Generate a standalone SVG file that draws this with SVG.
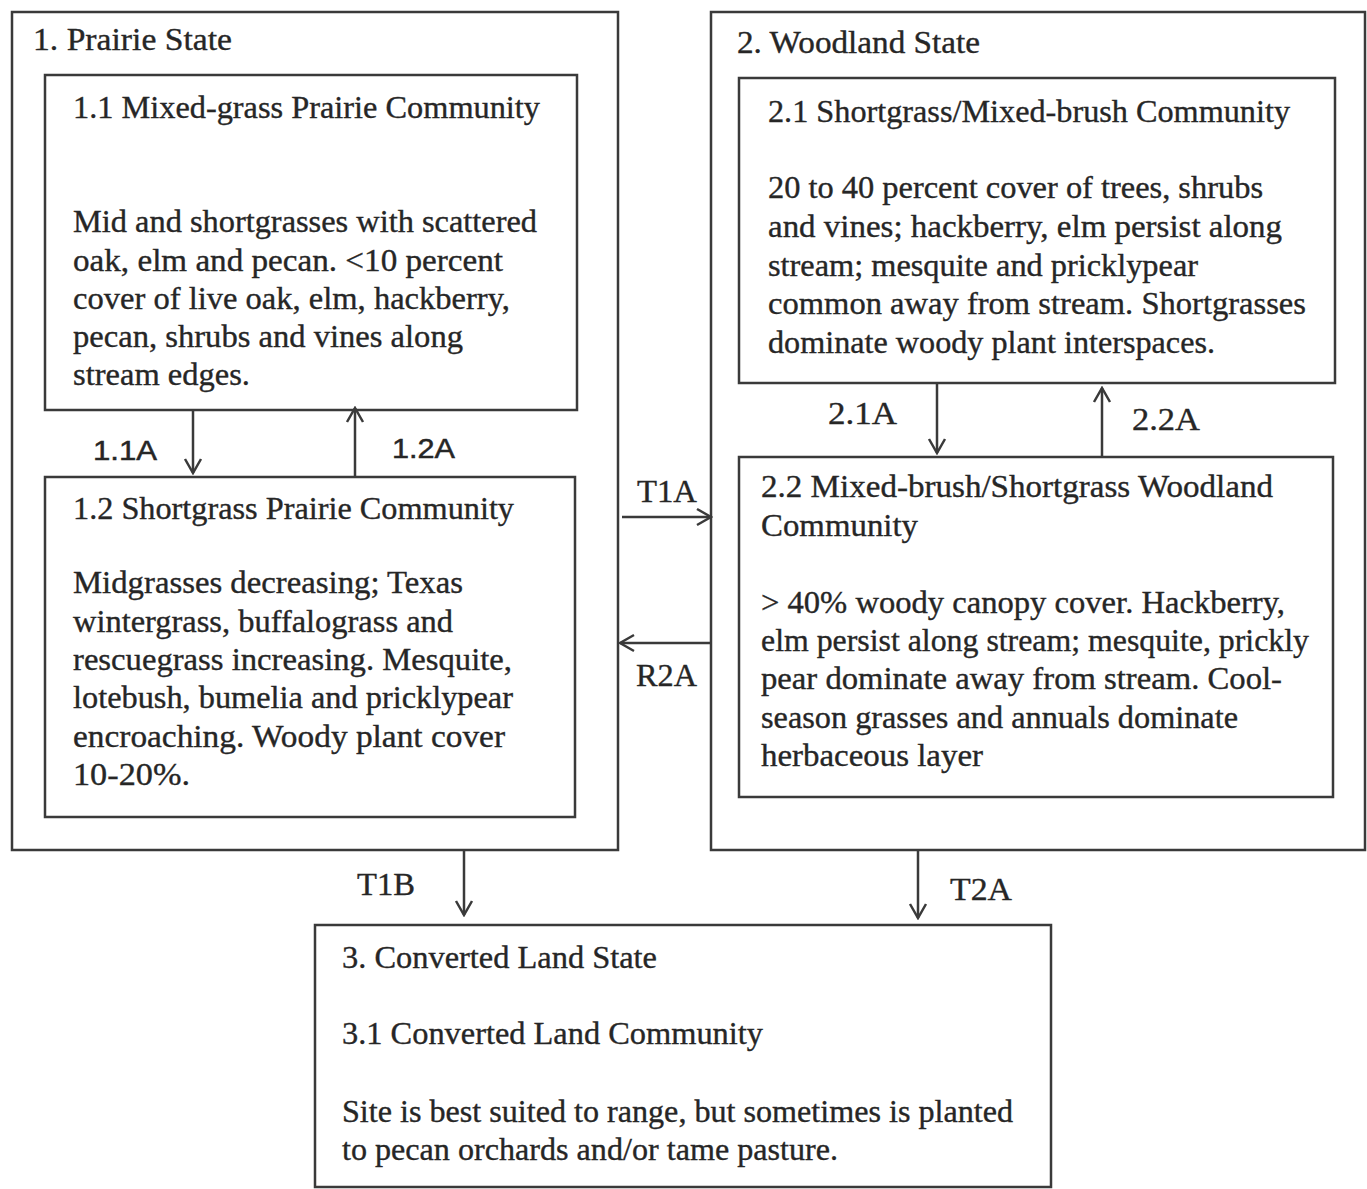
<svg xmlns="http://www.w3.org/2000/svg" width="1367" height="1189" viewBox="0 0 1367 1189" xml:space="preserve">
<style>
.box{fill:#fff;stroke:#3a3a3a;stroke-width:2.5}
.t{font-family:"Liberation Serif","Times New Roman",serif;font-size:31px;fill:#262626;stroke:#262626;stroke-width:0.35}
.s{font-family:"Liberation Sans",Arial,sans-serif;font-size:28px;fill:#262626;stroke:#262626;stroke-width:0.5}
.c{fill:none;stroke:#3a3a3a;stroke-width:2.5}
</style>
<defs>
<marker id="ah" viewBox="0 0 20 20" refX="18" refY="10" markerWidth="20" markerHeight="20" markerUnits="userSpaceOnUse" orient="auto">
<polyline points="4,2 18,10 4,18" fill="none" stroke="#3a3a3a" stroke-width="2.5"/>
</marker>
</defs>
<rect width="1367" height="1189" fill="#fff"/>
<g id="state1">
<rect class="box" x="12" y="12" width="606" height="838"/>
<text class="t" x="33" y="50" textLength="199" lengthAdjust="spacingAndGlyphs">1.  Prairie State</text>
</g>
<g id="comm11">
<rect class="box" x="45" y="75" width="532" height="335"/>
<text class="t" x="73" y="118" textLength="467" lengthAdjust="spacingAndGlyphs">1.1 Mixed-grass Prairie Community</text>
<text class="t" x="73" y="232" textLength="464" lengthAdjust="spacingAndGlyphs">Mid and shortgrasses with scattered</text>
<text class="t" x="73" y="271" textLength="430" lengthAdjust="spacingAndGlyphs">oak, elm and pecan.  &lt;10 percent</text>
<text class="t" x="73" y="309" textLength="437" lengthAdjust="spacingAndGlyphs">cover of live oak, elm, hackberry,</text>
<text class="t" x="73" y="347" textLength="390" lengthAdjust="spacingAndGlyphs">pecan, shrubs and vines along</text>
<text class="t" x="73" y="385" textLength="177" lengthAdjust="spacingAndGlyphs">stream edges.</text>
</g>
<g id="comm12">
<rect class="box" x="45" y="477" width="530" height="340"/>
<text class="t" x="73" y="519" textLength="441" lengthAdjust="spacingAndGlyphs">1.2 Shortgrass Prairie Community</text>
<text class="t" x="73" y="593" textLength="390" lengthAdjust="spacingAndGlyphs">Midgrasses decreasing; Texas</text>
<text class="t" x="73" y="632" textLength="380" lengthAdjust="spacingAndGlyphs">wintergrass, buffalograss and</text>
<text class="t" x="73" y="670" textLength="439" lengthAdjust="spacingAndGlyphs">rescuegrass increasing.  Mesquite,</text>
<text class="t" x="73" y="708" textLength="440" lengthAdjust="spacingAndGlyphs">lotebush, bumelia and pricklypear</text>
<text class="t" x="73" y="747" textLength="432" lengthAdjust="spacingAndGlyphs">encroaching.  Woody plant cover</text>
<text class="t" x="73" y="785" textLength="117" lengthAdjust="spacingAndGlyphs">10-20%.</text>
</g>
<g id="state2">
<rect class="box" x="711" y="12" width="654" height="838"/>
<text class="t" x="737" y="53" textLength="243" lengthAdjust="spacingAndGlyphs">2. Woodland State</text>
</g>
<g id="comm21">
<rect class="box" x="739" y="78" width="596" height="305"/>
<text class="t" x="768" y="122" textLength="522" lengthAdjust="spacingAndGlyphs">2.1 Shortgrass/Mixed-brush Community</text>
<text class="t" x="768" y="198" textLength="495" lengthAdjust="spacingAndGlyphs">20 to 40 percent cover of trees, shrubs</text>
<text class="t" x="768" y="237" textLength="514" lengthAdjust="spacingAndGlyphs">and vines;  hackberry, elm persist along</text>
<text class="t" x="768" y="276" textLength="430" lengthAdjust="spacingAndGlyphs">stream; mesquite and pricklypear</text>
<text class="t" x="768" y="314" textLength="538" lengthAdjust="spacingAndGlyphs">common away from stream.  Shortgrasses</text>
<text class="t" x="768" y="353" textLength="447" lengthAdjust="spacingAndGlyphs">dominate woody plant interspaces.</text>
</g>
<g id="comm22">
<rect class="box" x="739" y="457" width="594" height="340"/>
<text class="t" x="761" y="497" textLength="512" lengthAdjust="spacingAndGlyphs">2.2  Mixed-brush/Shortgrass Woodland</text>
<text class="t" x="761" y="536" textLength="157" lengthAdjust="spacingAndGlyphs">Community</text>
<text class="t" x="761" y="613" textLength="524" lengthAdjust="spacingAndGlyphs">&gt; 40% woody canopy cover.  Hackberry,</text>
<text class="t" x="761" y="651" textLength="548" lengthAdjust="spacingAndGlyphs">elm persist along stream; mesquite, prickly</text>
<text class="t" x="761" y="689" textLength="521" lengthAdjust="spacingAndGlyphs">pear dominate away from stream.  Cool-</text>
<text class="t" x="761" y="728" textLength="477" lengthAdjust="spacingAndGlyphs">season grasses and annuals dominate</text>
<text class="t" x="761" y="766" textLength="222" lengthAdjust="spacingAndGlyphs">herbaceous layer</text>
</g>
<g id="state3">
<rect class="box" x="315" y="925" width="736" height="262"/>
<text class="t" x="342" y="968" textLength="315" lengthAdjust="spacingAndGlyphs">3. Converted Land State</text>
<text class="t" x="342" y="1044" textLength="421" lengthAdjust="spacingAndGlyphs">3.1 Converted Land Community</text>
<text class="t" x="342" y="1122" textLength="671" lengthAdjust="spacingAndGlyphs">Site is best suited to range, but sometimes is planted</text>
<text class="t" x="342" y="1160" textLength="496" lengthAdjust="spacingAndGlyphs">to pecan orchards and/or tame pasture.</text>
</g>
<g id="connectors">
<line class="c" x1="193" y1="411" x2="193" y2="473" marker-end="url(#ah)"/>
<text class="s" x="93" y="460" textLength="64" lengthAdjust="spacingAndGlyphs">1.1A</text>
<line class="c" x1="355" y1="476" x2="355" y2="408" marker-end="url(#ah)"/>
<text class="s" x="392" y="458" textLength="63" lengthAdjust="spacingAndGlyphs">1.2A</text>
<line class="c" x1="622" y1="517" x2="711" y2="517" marker-end="url(#ah)"/>
<text class="t" x="637" y="502" textLength="60" lengthAdjust="spacingAndGlyphs">T1A</text>
<line class="c" x1="711" y1="643" x2="620" y2="643" marker-end="url(#ah)"/>
<text class="t" x="636" y="686" textLength="61" lengthAdjust="spacingAndGlyphs">R2A</text>
<line class="c" x1="937" y1="384" x2="937" y2="453" marker-end="url(#ah)"/>
<text class="t" x="828" y="424" textLength="69" lengthAdjust="spacingAndGlyphs">2.1A</text>
<line class="c" x1="1102" y1="456" x2="1102" y2="388" marker-end="url(#ah)"/>
<text class="t" x="1132" y="430" textLength="68" lengthAdjust="spacingAndGlyphs">2.2A</text>
<line class="c" x1="464" y1="851" x2="464" y2="915" marker-end="url(#ah)"/>
<text class="t" x="357" y="895" textLength="58" lengthAdjust="spacingAndGlyphs">T1B</text>
<line class="c" x1="918" y1="851" x2="918" y2="918" marker-end="url(#ah)"/>
<text class="t" x="950" y="900" textLength="62" lengthAdjust="spacingAndGlyphs">T2A</text>
</g>
</svg>
